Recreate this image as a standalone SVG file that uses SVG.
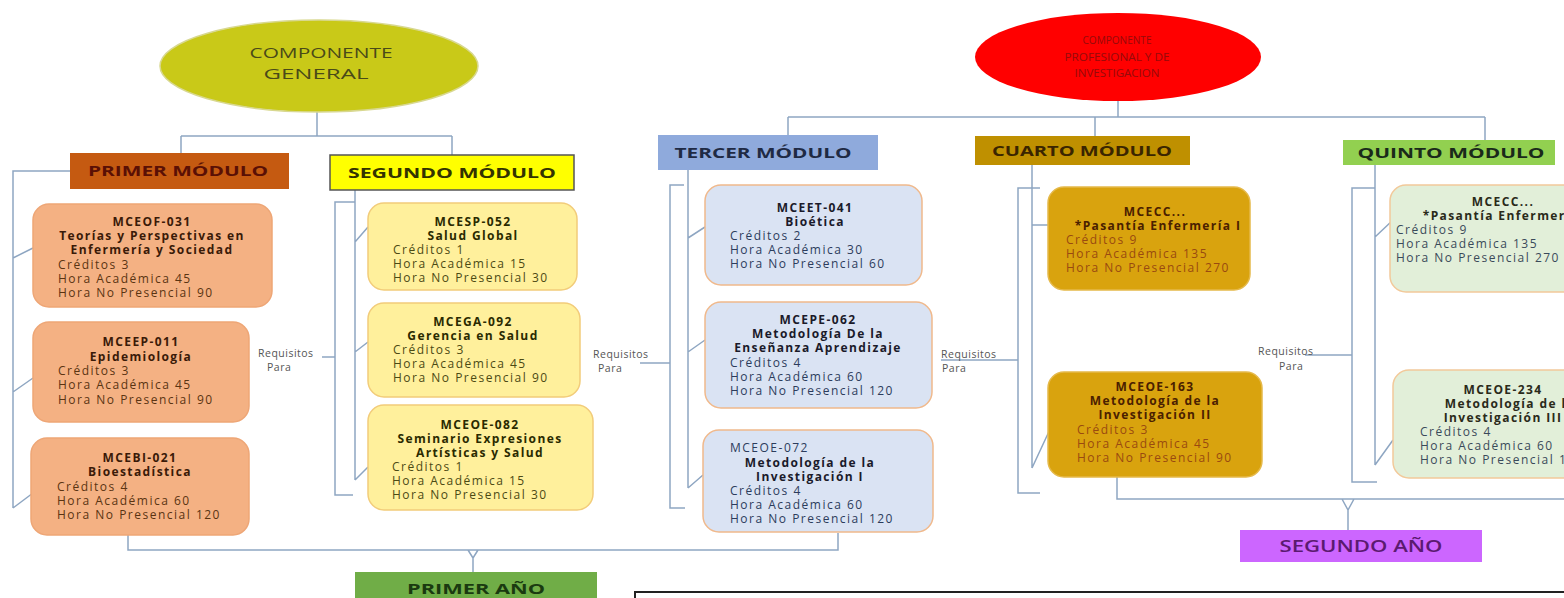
<svg xmlns="http://www.w3.org/2000/svg" width="1564" height="598" viewBox="0 0 1564 598">
<style>
.c{fill:none;stroke:#8ea6c2;stroke-width:1.5}
.hd{font-family:"Open Sans","Liberation Sans",sans-serif;font-weight:bold;font-size:15px;text-anchor:middle}
.el{font-family:"Open Sans","Liberation Sans",sans-serif;text-anchor:middle}
.t{font-family:"Open Sans","Liberation Sans",sans-serif;font-size:12px;letter-spacing:1.5px}
.b{font-weight:bold;text-anchor:middle;letter-spacing:1.4px}
.req{font-family:"Open Sans","Liberation Sans",sans-serif;font-size:10.5px;fill:#555;letter-spacing:0.5px}
.p1 rect{fill:#f4b183;stroke:#eea676;stroke-width:1.5}
.p1 text{fill:#5a3412}.p1 .b{fill:#3a1a08}
.p2 rect{fill:#fff09c;stroke:#f2cc7a;stroke-width:1.5}
.p2 text{fill:#4c4a14}.p2 .b{fill:#2a2a00}
.p3 rect{fill:#dae3f3;stroke:#f0b98c;stroke-width:1.5}
.p3 text{fill:#2c3c5c}.p3 .b{fill:#1a1a2a}
.p4 rect{fill:#d9a30e;stroke:#e5b94a;stroke-width:1.5}
.p4 text{fill:#9a4a10}.p4 .b{fill:#4a2000}
.p5 rect{fill:#e2efd9;stroke:#f2c99a;stroke-width:1.5}
.p5 text{fill:#3a4a5a}.p5 .b{fill:#2a2a1a}
</style>
<rect width="1564" height="598" fill="#ffffff"/>

<g id="connectors">
<path class="c" d="M317,112 V136 M181,136 H452 M181,136 V153 M452,136 V155"/>
<path class="c" d="M1118,100 V117 M788,117 H1485 M788,117 V135 M1095,117 V136 M1485,117 V140"/>
<path class="c" d="M70,171 H13 V508 M13,258 L33,248 M13,392 L33,378 M13,508 L33,493"/>
<path class="c" d="M355,190 V480 M355,242 L368,227 M355,352 L368,342 M355,480 L368,467 M355,202 H335 V495 H353 M322,357 H335"/>
<path class="c" d="M688,170 V488 M688,238 L705,227 M688,352 L705,340 M688,488 L703,475 M684,185 H670 V508 H685 M640,363 H670"/>
<path class="c" d="M1032,165 V468 M1032,225 H1048 M1032,468 L1052,425 M1040,188 H1018 V493 H1040 M941,360 H1018"/>
<path class="c" d="M1375,165 V465 M1375,237 L1393,220 M1375,465 L1393,440 M1375,188 H1352 V482 H1377 M1305,355 H1352"/>
<path class="c" d="M128,535 V550 H838 V533 M468,550 L473,558 L478,550 M473,558 V572"/>
<path class="c" d="M1117,477 V499 H1564 M1342,499 L1348,510 L1354,499 M1348,510 V530"/>
</g>

<g id="comp-general">
<ellipse cx="319" cy="66" rx="159" ry="46" fill="#c9c918" stroke="#d8d890" stroke-width="1.5"/>
<text x="321" y="58" class="el" style="font-size:14px;fill:#4a4a18" textLength="143" lengthAdjust="spacingAndGlyphs">COMPONENTE</text>
<text x="316" y="79" class="el" style="font-size:14px;fill:#4a4a18" textLength="105" lengthAdjust="spacingAndGlyphs">GENERAL</text>
</g>

<g id="comp-prof">
<ellipse cx="1118" cy="57" rx="143" ry="44" fill="#ff0000"/>
<text x="1117" y="44" class="el" style="font-size:11.5px;fill:#960a0a" textLength="69" lengthAdjust="spacingAndGlyphs">COMPONENTE</text>
<text x="1117" y="61" class="el" style="font-size:11.5px;fill:#960a0a" textLength="105" lengthAdjust="spacingAndGlyphs">PROFESIONAL Y DE</text>
<text x="1117" y="77" class="el" style="font-size:11.5px;fill:#960a0a" textLength="85" lengthAdjust="spacingAndGlyphs">INVESTIGACION</text>
</g>

<g id="primer-modulo">
<rect x="70" y="153" width="219" height="36" fill="#c55a11"/>
<text x="178" y="176" class="hd" fill="#5a1005" textLength="180" lengthAdjust="spacingAndGlyphs">PRIMER MÓDULO</text>
</g>
<g id="segundo-modulo">
<rect x="330" y="155" width="244" height="35" fill="#ffff00" stroke="#555" stroke-width="1.5"/>
<text x="452" y="178" class="hd" fill="#333300" textLength="208" lengthAdjust="spacingAndGlyphs">SEGUNDO MÓDULO</text>
</g>
<g id="tercer-modulo">
<rect x="658" y="135" width="220" height="35" fill="#8faadc"/>
<text x="763" y="158" class="hd" fill="#1f2a44" textLength="177" lengthAdjust="spacingAndGlyphs">TERCER MÓDULO</text>
</g>
<g id="cuarto-modulo">
<rect x="975" y="136" width="215" height="29" fill="#bf9000"/>
<text x="1082" y="156" class="hd" fill="#3a2500" textLength="180" lengthAdjust="spacingAndGlyphs">CUARTO MÓDULO</text>
</g>
<g id="quinto-modulo">
<rect x="1343" y="140" width="212" height="25" fill="#92d050"/>
<text x="1451" y="158" class="hd" fill="#1a2a1a" textLength="187" lengthAdjust="spacingAndGlyphs">QUINTO MÓDULO</text>
</g>
<g id="primer-anio">
<rect x="355" y="572" width="242" height="30" fill="#70ad47"/>
<text x="476" y="594" class="hd" fill="#1a3a10" textLength="138" lengthAdjust="spacingAndGlyphs">PRIMER AÑO</text>
</g>
<g id="segundo-anio">
<rect x="1240" y="530" width="242" height="32" fill="#cc66ff"/>
<text x="1361" y="552" class="hd" style="font-weight:600;font-size:16px" fill="#5b1a70" textLength="163" lengthAdjust="spacingAndGlyphs">SEGUNDO AÑO</text>
</g>

<g id="mceof-031" class="p1">
<rect x="33" y="204" width="239" height="103" rx="16"/>
<text class="t b" x="152" y="226">MCEOF-031</text>
<text class="t b" x="152" y="240">Teorías y Perspectivas en</text>
<text class="t b" x="152" y="254">Enfermería y Sociedad</text>
<text class="t" x="58" y="269">Créditos 3</text>
<text class="t" x="58" y="283">Hora Académica 45</text>
<text class="t" x="58" y="297">Hora No Presencial 90</text>
</g>
<g id="mceep-011" class="p1">
<rect x="33" y="322" width="216" height="100" rx="16"/>
<text class="t b" x="141" y="346">MCEEP-011</text>
<text class="t b" x="141" y="361">Epidemiología</text>
<text class="t" x="58" y="375">Créditos 3</text>
<text class="t" x="58" y="389">Hora Académica 45</text>
<text class="t" x="58" y="404">Hora No Presencial 90</text>
</g>
<g id="mcebi-021" class="p1">
<rect x="31" y="438" width="218" height="97" rx="16"/>
<text class="t b" x="140" y="462">MCEBI-021</text>
<text class="t b" x="140" y="476">Bioestadística</text>
<text class="t" x="57" y="491">Créditos 4</text>
<text class="t" x="57" y="505">Hora Académica 60</text>
<text class="t" x="57" y="519">Hora No Presencial 120</text>
</g>

<g id="mcesp-052" class="p2">
<rect x="368" y="203" width="209" height="87" rx="16"/>
<text class="t b" x="473" y="226">MCESP-052</text>
<text class="t b" x="473" y="240">Salud Global</text>
<text class="t" x="393" y="254">Créditos 1</text>
<text class="t" x="393" y="268">Hora Académica 15</text>
<text class="t" x="393" y="282">Hora No Presencial 30</text>
</g>
<g id="mcega-092" class="p2">
<rect x="368" y="303" width="212" height="94" rx="16"/>
<text class="t b" x="473" y="326">MCEGA-092</text>
<text class="t b" x="473" y="340">Gerencia en Salud</text>
<text class="t" x="393" y="354">Créditos 3</text>
<text class="t" x="393" y="368">Hora Académica 45</text>
<text class="t" x="393" y="382">Hora No Presencial 90</text>
</g>
<g id="mceoe-082" class="p2">
<rect x="368" y="405" width="225" height="105" rx="16"/>
<text class="t b" x="480" y="429">MCEOE-082</text>
<text class="t b" x="480" y="443">Seminario Expresiones</text>
<text class="t b" x="480" y="457">Artísticas y Salud</text>
<text class="t" x="392" y="471">Créditos 1</text>
<text class="t" x="392" y="485">Hora Académica 15</text>
<text class="t" x="392" y="499">Hora No Presencial 30</text>
</g>

<g id="mceet-041" class="p3">
<rect x="705" y="185" width="217" height="100" rx="16"/>
<text class="t b" x="815" y="212">MCEET-041</text>
<text class="t b" x="815" y="226">Bioética</text>
<text class="t" x="730" y="240">Créditos 2</text>
<text class="t" x="730" y="254">Hora Académica 30</text>
<text class="t" x="730" y="268">Hora No Presencial 60</text>
</g>
<g id="mcepe-062" class="p3">
<rect x="705" y="302" width="227" height="106" rx="16"/>
<text class="t b" x="818" y="324">MCEPE-062</text>
<text class="t b" x="818" y="338">Metodología De la</text>
<text class="t b" x="818" y="352">Enseñanza Aprendizaje</text>
<text class="t" x="730" y="367">Créditos 4</text>
<text class="t" x="730" y="381">Hora Académica 60</text>
<text class="t" x="730" y="395">Hora No Presencial 120</text>
</g>
<g id="mceoe-072" class="p3">
<rect x="703" y="430" width="230" height="102" rx="16"/>
<text class="t" x="730" y="452">MCEOE-072</text>
<text class="t b" x="810" y="467">Metodología de la</text>
<text class="t b" x="810" y="481">Investigación I</text>
<text class="t" x="730" y="495">Créditos 4</text>
<text class="t" x="730" y="509">Hora Académica 60</text>
<text class="t" x="730" y="523">Hora No Presencial 120</text>
</g>

<g id="mcecc-1" class="p4">
<rect x="1048" y="187" width="202" height="103" rx="16"/>
<text class="t b" x="1155" y="216">MCECC...</text>
<text class="t b" x="1158" y="230">*Pasantía Enfermería I</text>
<text class="t" x="1066" y="244">Créditos 9</text>
<text class="t" x="1066" y="258">Hora Académica 135</text>
<text class="t" x="1066" y="272">Hora No Presencial 270</text>
</g>
<g id="mceoe-163" class="p4">
<rect x="1048" y="372" width="214" height="105" rx="16"/>
<text class="t b" x="1155" y="391">MCEOE-163</text>
<text class="t b" x="1155" y="405">Metodología de la</text>
<text class="t b" x="1155" y="419">Investigación II</text>
<text class="t" x="1077" y="434">Créditos 3</text>
<text class="t" x="1077" y="448">Hora Académica 45</text>
<text class="t" x="1077" y="462">Hora No Presencial 90</text>
</g>

<g id="mcecc-2" class="p5">
<rect x="1390" y="185" width="200" height="107" rx="16"/>
<text class="t b" x="1503" y="206">MCECC...</text>
<text class="t b" x="1506" y="220">*Pasantía Enfermería I</text>
<text class="t" x="1396" y="234">Créditos 9</text>
<text class="t" x="1396" y="248">Hora Académica 135</text>
<text class="t" x="1396" y="262">Hora No Presencial 270</text>
</g>
<g id="mceoe-234" class="p5">
<rect x="1393" y="370" width="200" height="108" rx="16"/>
<text class="t b" x="1503" y="394">MCEOE-234</text>
<text class="t b" x="1510" y="408">Metodología de la</text>
<text class="t b" x="1503" y="422">Investigación III</text>
<text class="t" x="1420" y="436">Créditos 4</text>
<text class="t" x="1420" y="450">Hora Académica 60</text>
<text class="t" x="1420" y="464">Hora No Presencial 120</text>
</g>

<g id="labels">
<text class="req" x="258" y="357">Requisitos</text><text class="req" x="267" y="371">Para</text>
<text class="req" x="593" y="358">Requisitos</text><text class="req" x="598" y="372">Para</text>
<text class="req" x="941" y="358">Requisitos</text><text class="req" x="942" y="372">Para</text>
<text class="req" x="1258" y="355">Requisitos</text><text class="req" x="1279" y="370">Para</text>
</g>

<g id="textbox">
<rect x="635" y="592" width="940" height="20" fill="#ffffff" stroke="#222" stroke-width="2"/>
</g>
</svg>
